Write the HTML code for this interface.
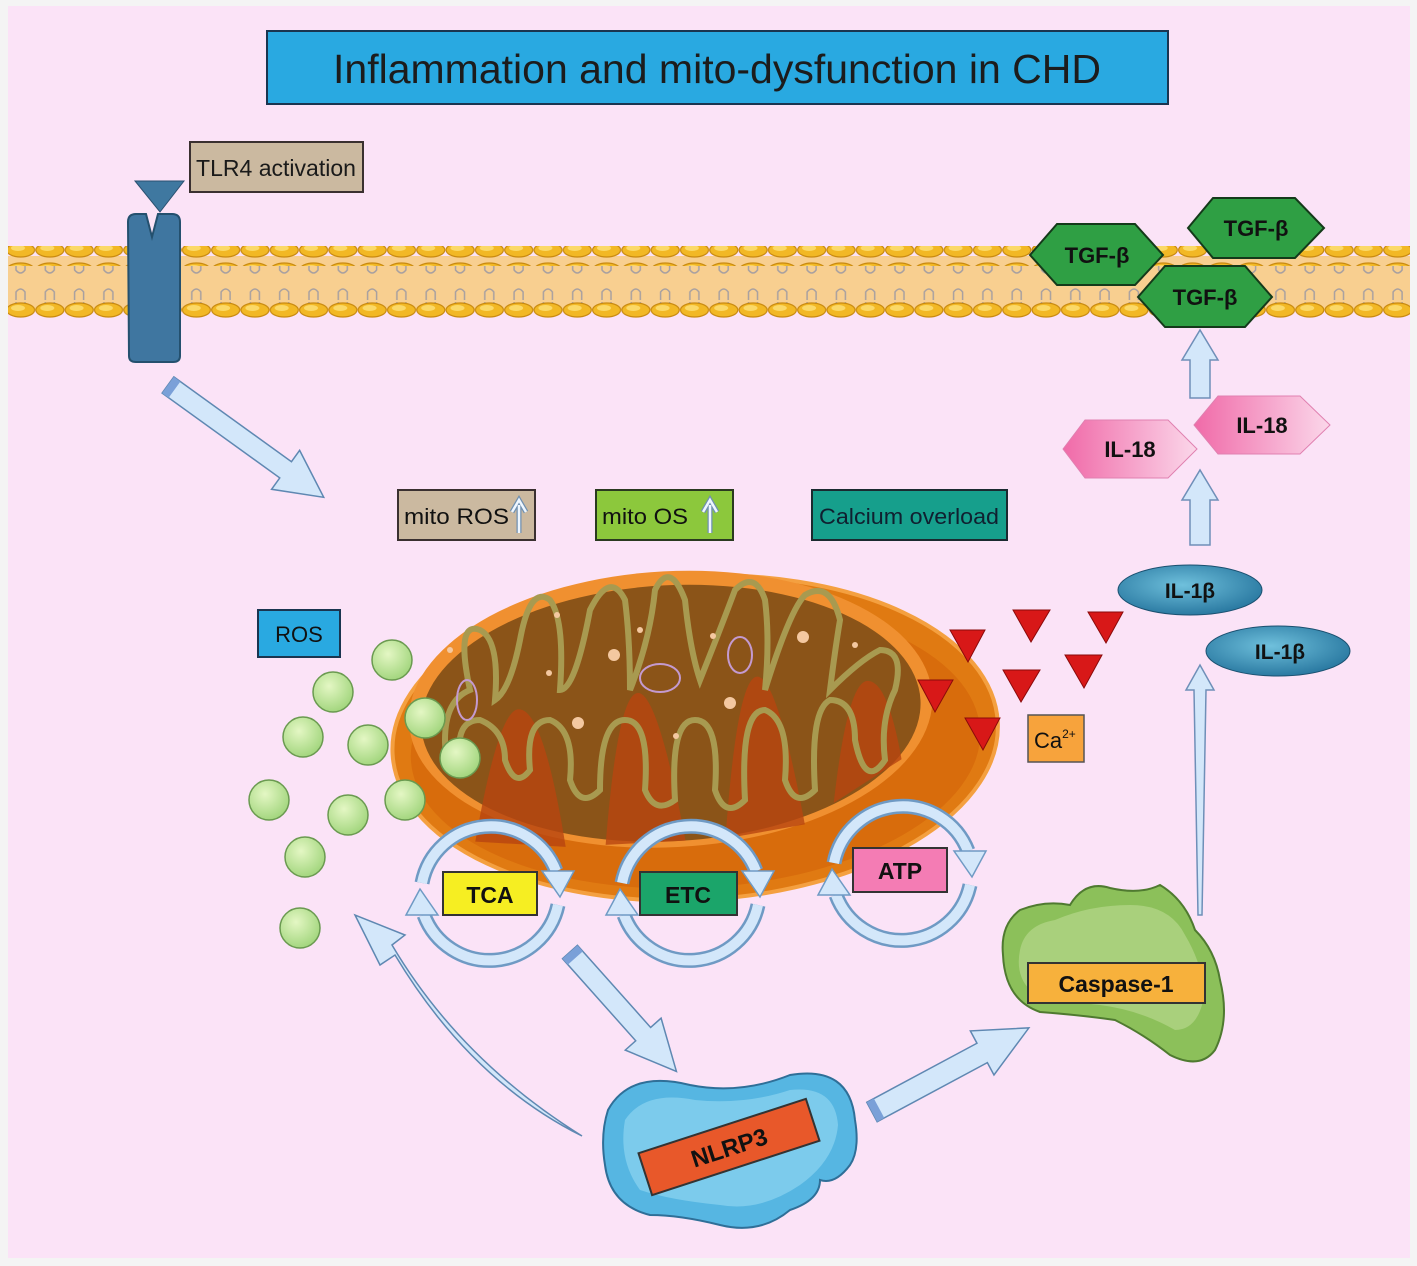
<!DOCTYPE html>
<html><head><meta charset="utf-8"><style>
html,body{margin:0;padding:0;background:#fff}
svg{display:block}
text{font-family:"Liberation Sans",sans-serif}
</style></head><body>
<svg width="1417" height="1266" viewBox="0 0 1417 1266" xmlns="http://www.w3.org/2000/svg">
<defs>
<pattern id="heads" x="6" y="0" width="29.3" height="20" patternUnits="userSpaceOnUse">
<ellipse cx="14.6" cy="10" rx="14" ry="7" fill="#f2b825" stroke="#c98a10" stroke-width="1.2"/>
<ellipse cx="12" cy="8" rx="7" ry="3" fill="#fbd968"/>
</pattern>
<pattern id="tails" x="6" y="0" width="29.3" height="40" patternUnits="userSpaceOnUse">
<path d="M10,20 V12 Q14.6,6 19,12 V20" fill="none" stroke="#a8a0a0" stroke-width="1.5"/>
<path d="M10,22 V30 Q14.6,36 19,30 V22" fill="none" stroke="#a8a0a0" stroke-width="1.5"/>
</pattern>
<linearGradient id="il18" x1="0" x2="1"><stop offset="0" stop-color="#f06aa8"/><stop offset="1" stop-color="#fbd7ea"/></linearGradient>
<radialGradient id="ball" cx="0.4" cy="0.35" r="0.7"><stop offset="0" stop-color="#e4f7c4"/><stop offset="1" stop-color="#9fd47a"/></radialGradient>
<radialGradient id="il1" cx="0.45" cy="0.4" r="0.7"><stop offset="0" stop-color="#6fc0dc"/><stop offset="1" stop-color="#1f6e98"/></radialGradient>
<g id="cyc">
<path d="M-68,-10 A70,70 0 0 1 66,-22" fill="none" stroke="#6f9ac4" stroke-width="15"/>
<path d="M-68,-10 A70,70 0 0 1 66,-22" fill="none" stroke="#d3e7fa" stroke-width="10"/>
<path d="M68,12 A70,70 0 0 1 -66,22" fill="none" stroke="#6f9ac4" stroke-width="15"/>
<path d="M68,12 A70,70 0 0 1 -66,22" fill="none" stroke="#d3e7fa" stroke-width="10"/>
<polygon points="52,-22 84,-22 70,4" fill="#d3e7fa" stroke="#6f9ac4" stroke-width="1.5"/>
<polygon points="-52,22 -84,22 -70,-4" fill="#d3e7fa" stroke="#6f9ac4" stroke-width="1.5"/>
</g>
</defs>
<rect x="0" y="0" width="1417" height="1266" fill="#f4f4f4"/>
<rect x="8" y="6" width="1402" height="1252" fill="#fbe3f7"/>

<!-- title -->
<rect x="267" y="31" width="901" height="73" fill="#29a9e1" stroke="#1a3550" stroke-width="2"/>
<text x="717" y="83" font-size="41" text-anchor="middle" fill="#1c1c1c">Inflammation and mito-dysfunction in CHD</text>

<!-- membrane -->
<rect x="8" y="256" width="1402" height="54" fill="#f8cf90"/>
<rect x="8" y="263" width="1402" height="40" fill="url(#tails)"/>
<rect x="8" y="246" width="1402" height="20" fill="url(#heads)"/>
<rect x="8" y="301" width="1402" height="20" fill="url(#heads)"/>

<!-- TLR4 -->
<rect x="190" y="142" width="173" height="50" fill="#cbb9a0" stroke="#3a3030" stroke-width="2"/>
<text x="276" y="176" font-size="23" text-anchor="middle" fill="#1a1a1a" textLength="160" lengthAdjust="spacingAndGlyphs">TLR4 activation</text>
<polygon points="135,181 184,181 160,212" fill="#3f78a0" stroke="#2a5070" stroke-width="1"/>
<path d="M128,222 Q128,214 136,214 L146,214 L152,237 L158,214 L172,214 Q180,214 180,222 L180,356 Q180,362 173,362 L136,362 Q129,362 129,356 Z" fill="#3f76a0" stroke="#24506e" stroke-width="2"/>

<!-- arrow TLR4 -> mito -->
<g transform="translate(168,385) rotate(35.8)" >
<polygon points="0,-10 145,-10 145,-24 192,0 145,24 145,10 0,10" fill="#d3e7fa" stroke="#5f88b2" stroke-width="1.5"/>
<rect x="0" y="-10" width="8" height="20" fill="#7aa0d8"/>
</g>

<!-- labels -->
<rect x="398" y="490" width="137" height="50" fill="#cbb9a0" stroke="#3a3030" stroke-width="2"/>
<text x="404" y="524" font-size="22" fill="#111" textLength="105" lengthAdjust="spacingAndGlyphs">mito ROS</text>
<path d="M519,533 V505 M512,512 L519,500 L526,512" stroke="#7090b0" stroke-width="5" fill="none"/><path d="M519,533 V505 M512,512 L519,500 L526,512" stroke="#eef6ff" stroke-width="2.5" fill="none"/>
<rect x="596" y="490" width="137" height="50" fill="#8cc83c" stroke="#2a3a20" stroke-width="2"/>
<text x="602" y="524" font-size="22" fill="#111" textLength="86" lengthAdjust="spacingAndGlyphs">mito OS</text>
<path d="M710,533 V505 M703,512 L710,500 L717,512" stroke="#7090b0" stroke-width="5" fill="none"/><path d="M710,533 V505 M703,512 L710,500 L717,512" stroke="#eef6ff" stroke-width="2.5" fill="none"/>
<rect x="812" y="490" width="195" height="50" fill="#169f8c" stroke="#1a2a30" stroke-width="2"/>
<text x="909" y="524" font-size="22" text-anchor="middle" fill="#102030" textLength="180" lengthAdjust="spacingAndGlyphs">Calcium overload</text>
<rect x="258" y="610" width="82" height="47" fill="#29a9e1" stroke="#1a3550" stroke-width="2"/>
<text x="299" y="642" font-size="22" text-anchor="middle" fill="#111">ROS</text>

<!-- mitochondrion -->
<g transform="rotate(-3 695 735)">
<ellipse cx="695" cy="738" rx="303" ry="162" fill="#e07a12" stroke="#f4a040" stroke-width="4"/>
<ellipse cx="695" cy="745" rx="285" ry="143" fill="#d86c0c"/>
<ellipse cx="672" cy="708" rx="262" ry="138" fill="#f09030"/>
<ellipse cx="672" cy="712" rx="250" ry="128" fill="#8b5418"/>
<path d="M470,830 Q500,700 520,700 Q545,700 560,840 Z M600,840 Q620,690 640,690 Q660,690 680,840 Z M720,840 Q740,680 760,680 Q780,680 800,830 Z M830,810 Q850,690 870,690 Q890,690 900,770 Z" fill="#b84510" opacity="0.8"/>
</g>
<path d="M470,690 Q455,620 480,630 Q500,640 495,700 Q510,690 520,640 Q530,585 550,600 Q565,620 560,690 Q575,690 590,610 Q610,570 625,600 Q630,640 630,690 Q650,640 655,590 Q670,560 685,600 Q690,650 700,680 Q720,630 735,590 Q755,570 765,600 Q770,640 765,690 Q790,610 805,595 Q830,580 840,620 Q835,650 830,690 Q860,660 880,650 Q905,650 895,690 Q880,720 885,760 Q865,790 855,740 Q855,700 830,700 Q810,710 815,790 Q795,810 785,780 Q790,720 765,710 Q740,710 745,800 Q725,820 715,790 Q720,720 695,720 Q670,720 675,800 Q655,815 645,790 Q650,720 625,720 Q600,720 600,790 Q580,810 570,780 Q575,730 550,720 Q525,720 530,770 Q515,790 505,760 Q505,730 480,720 Q455,720 460,760 Q445,770 445,740 Q445,700 470,690 Z" fill="none" stroke="#a89a50" stroke-width="6"/>
<ellipse cx="467" cy="700" rx="10" ry="20" fill="none" stroke="#c49ad0" stroke-width="2"/>
<ellipse cx="660" cy="678" rx="20" ry="14" fill="none" stroke="#c49ad0" stroke-width="2"/>
<ellipse cx="740" cy="655" rx="12" ry="18" fill="none" stroke="#c49ad0" stroke-width="2"/>
<g fill="#f4c8a0"><circle cx="614" cy="655" r="6"/><circle cx="730" cy="703" r="6"/><circle cx="578" cy="723" r="6"/><circle cx="803" cy="637" r="6"/><circle cx="450" cy="650" r="3"/><circle cx="549" cy="673" r="3"/><circle cx="557" cy="615" r="3"/><circle cx="640" cy="630" r="3"/><circle cx="713" cy="636" r="3"/><circle cx="676" cy="736" r="3"/><circle cx="855" cy="645" r="3"/></g>

<!-- ROS balls -->
<g fill="url(#ball)" stroke="#6a9a50" stroke-width="1.5">
<circle cx="392" cy="660" r="20"/><circle cx="333" cy="692" r="20"/><circle cx="303" cy="737" r="20"/><circle cx="425" cy="718" r="20"/><circle cx="368" cy="745" r="20"/><circle cx="460" cy="758" r="20"/><circle cx="269" cy="800" r="20"/><circle cx="348" cy="815" r="20"/><circle cx="405" cy="800" r="20"/><circle cx="305" cy="857" r="20"/><circle cx="300" cy="928" r="20"/>
</g>

<!-- cycles -->
<use href="#cyc" transform="translate(490,893)"/>
<use href="#cyc" transform="translate(690,893)"/>
<use href="#cyc" transform="translate(902,873)"/>
<rect x="443" y="872" width="94" height="43" fill="#f6ee22" stroke="#333" stroke-width="2"/>
<text x="490" y="903" font-size="23" font-weight="bold" text-anchor="middle" fill="#111">TCA</text>
<rect x="640" y="872" width="97" height="43" fill="#1ba56a" stroke="#333" stroke-width="2"/>
<text x="688" y="903" font-size="23" font-weight="bold" text-anchor="middle" fill="#111">ETC</text>
<rect x="853" y="848" width="94" height="44" fill="#f47cb4" stroke="#333" stroke-width="2"/>
<text x="900" y="879" font-size="23" font-weight="bold" text-anchor="middle" fill="#111">ATP</text>

<!-- Ca triangles -->
<g fill="#d81818" stroke="#8a0a0a" stroke-width="1">
<polygon points="950,630 985,630 968,662"/><polygon points="1013,610 1050,610 1031,642"/><polygon points="1088,612 1123,612 1106,643"/>
<polygon points="918,680 953,680 935,712"/><polygon points="1003,670 1040,670 1021,702"/><polygon points="1065,655 1102,655 1084,688"/>
<polygon points="965,718 1000,718 983,750"/>
</g>
<rect x="1028" y="715" width="56" height="47" fill="#f7a33c" stroke="#555" stroke-width="1.5"/>
<text x="1034" y="748" font-size="22" fill="#111">Ca<tspan font-size="12" dy="-10">2+</tspan></text>

<!-- up arrows right -->
<g fill="#d3e7fa" stroke="#6f8fb8" stroke-width="1.5">
<polygon points="1190,545 1210,545 1210,500 1218,500 1200,470 1182,500 1190,500"/>
<polygon points="1190,398 1210,398 1210,360 1218,360 1200,330 1182,360 1190,360"/>
<polygon points="1198,915 1202,915 1206,690 1214,690 1200,665 1186,690 1194,690"/>
</g>

<!-- IL-1b -->
<ellipse cx="1190" cy="590" rx="72" ry="25" fill="url(#il1)" stroke="#1a5070" stroke-width="1"/>
<text x="1190" y="598" font-size="21" font-weight="bold" text-anchor="middle" fill="#111">IL-1β</text>
<ellipse cx="1278" cy="651" rx="72" ry="25" fill="url(#il1)" stroke="#1a5070" stroke-width="1"/>
<text x="1280" y="659" font-size="21" font-weight="bold" text-anchor="middle" fill="#111">IL-1β</text>

<!-- IL-18 -->
<polygon points="1063,449 1085,420 1168,420 1197,449 1168,478 1085,478" fill="url(#il18)" stroke="#e080b0" stroke-width="1"/>
<text x="1130" y="457" font-size="22" font-weight="bold" text-anchor="middle" fill="#111">IL-18</text>
<polygon points="1194,425 1218,396 1300,396 1330,425 1300,454 1218,454" fill="url(#il18)" stroke="#e080b0" stroke-width="1"/>
<text x="1262" y="433" font-size="22" font-weight="bold" text-anchor="middle" fill="#111">IL-18</text>

<!-- TGF-b -->
<g fill="#2f9f44" stroke="#143a1a" stroke-width="2">
<polygon points="1030,255 1057,224 1135,224 1163,255 1135,285 1057,285"/>
<polygon points="1188,228 1213,198 1295,198 1324,228 1295,258 1213,258"/>
<polygon points="1138,297 1165,266 1245,266 1272,297 1245,327 1165,327"/>
</g>
<g font-size="22" font-weight="bold" text-anchor="middle" fill="#111">
<text x="1097" y="263">TGF-β</text><text x="1256" y="236">TGF-β</text><text x="1205" y="305">TGF-β</text>
</g>

<!-- arrows to/from NLRP3 -->
<g transform="translate(570,952) rotate(48.3)">
<polygon points="0,-10 110,-10 110,-24 160,0 110,24 110,10 0,10" fill="#d3e7fa" stroke="#5f88b2" stroke-width="1.5"/>
<rect x="0" y="-10" width="8" height="20" fill="#7aa0d8"/>
</g>
<g transform="translate(872,1112) rotate(-28.2)">
<polygon points="0,-11 125,-11 125,-25 178,0 125,25 125,11 0,11" fill="#d3e7fa" stroke="#5f88b2" stroke-width="1.5"/>
<rect x="0" y="-11" width="8" height="22" fill="#7aa0d8"/>
</g>
<path d="M582,1136 Q470,1080 395,955 L380,965 L355,915 L405,935 L392,945 Q460,1060 582,1136 Z" fill="#d3e7fa" stroke="#5f88b2" stroke-width="1.5"/>

<!-- NLRP3 blob -->
<path d="M608,1110 Q630,1070 690,1085 Q740,1095 790,1075 Q850,1065 855,1120 Q860,1150 850,1165 Q835,1185 820,1180 Q820,1200 790,1210 Q760,1235 720,1225 Q680,1215 650,1215 Q610,1205 605,1165 Q600,1135 608,1110 Z" fill="#56b6e2" stroke="#2f6f98" stroke-width="2"/>
<path d="M625,1120 Q645,1090 695,1100 Q745,1105 790,1090 Q835,1085 838,1125 Q835,1160 800,1185 Q760,1212 720,1205 Q670,1200 640,1190 Q618,1160 625,1120 Z" fill="#7ccbec"/>
<g transform="translate(729,1147) rotate(-18)">
<rect x="-88" y="-22" width="176" height="44" fill="#e8582a" stroke="#333" stroke-width="2"/>
<text x="0" y="9" font-size="24" font-weight="bold" text-anchor="middle" fill="#111">NLRP3</text>
</g>

<!-- Caspase-1 blob -->
<path d="M1003,955 Q1000,925 1020,910 Q1045,900 1070,905 Q1085,880 1110,888 Q1140,895 1160,885 Q1185,900 1195,930 Q1215,950 1220,980 Q1230,1020 1215,1050 Q1200,1070 1170,1055 Q1145,1035 1115,1020 Q1080,1015 1040,1012 Q1005,1000 1003,955 Z" fill="#8cc05a" stroke="#4f7a30" stroke-width="2"/>
<path d="M1020,950 Q1025,925 1055,920 Q1090,905 1130,905 Q1170,905 1185,935 Q1200,960 1205,990 Q1200,1030 1175,1030 Q1140,1010 1100,1005 Q1050,1000 1030,990 Q1015,975 1020,950 Z" fill="#a9d07c"/>
<rect x="1028" y="963" width="177" height="40" fill="#f7b13c" stroke="#333" stroke-width="2"/>
<text x="1116" y="992" font-size="23" font-weight="bold" text-anchor="middle" fill="#111">Caspase-1</text>
</svg>
</body></html>
